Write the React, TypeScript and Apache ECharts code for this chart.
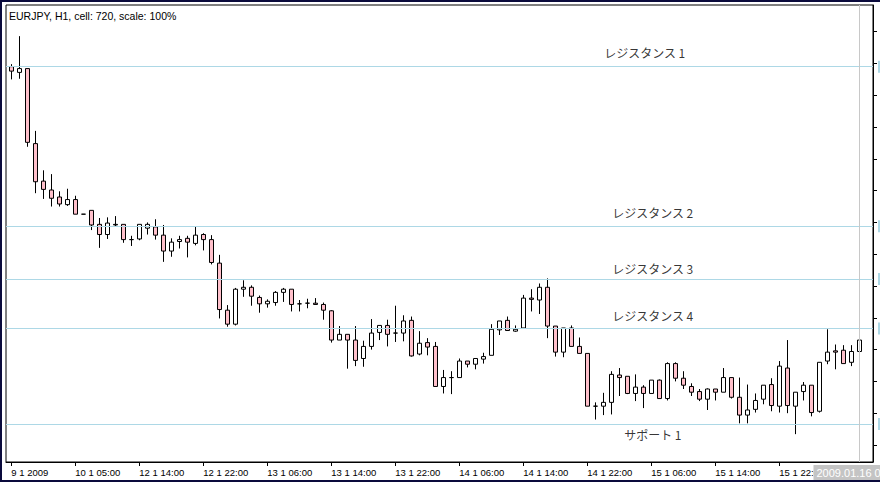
import React, { useEffect, useRef } from "react";
import * as echarts from "echarts";

// ---- data (EURJPY, H1) ----
const openPrices = [
  123.45, 123.36, 123.42, 122.24, 121.65, 121.51, 121.40, 121.28, 121.36, 121.13,
  121.19, 120.97, 120.81, 120.96, 120.97, 120.73, 120.74, 120.91, 120.93, 120.80,
  120.55, 120.70, 120.75, 120.67, 120.81, 120.73, 120.36, 119.62, 119.40, 119.95,
  119.98, 119.82, 119.72, 119.74, 119.90, 119.95, 119.72, 119.73, 119.73, 119.71,
  119.61, 119.15, 119.24, 119.15, 118.86, 119.05, 119.27, 119.38, 119.26, 119.26,
  119.46, 118.93, 119.11, 119.05, 118.42, 118.56, 118.56, 118.82, 118.77, 118.85,
  118.91, 119.31, 119.46, 119.29, 119.34, 119.81, 119.78, 119.98, 119.37, 118.96,
  119.34, 119.05, 118.94, 118.11, 118.11, 118.17, 118.60, 118.58, 118.31, 118.41,
  118.31, 118.52, 118.23, 118.78, 118.55, 118.42, 118.34, 118.22, 118.38, 118.33,
  118.56, 118.25, 117.97, 118.06, 118.22, 118.45, 118.11, 118.71, 118.11, 118.34,
  118.44, 118.03, 118.82, 118.98, 118.99, 118.80, 118.97,
];
const highPrices = [
  123.49, 123.93, 123.42, 122.44, 121.82, 121.76, 121.49, 121.53, 121.42, 121.13,
  121.19, 121.07, 121.08, 121.10, 120.97, 120.79, 120.97, 121.00, 121.05, 120.96,
  120.75, 120.79, 120.79, 120.93, 120.83, 120.80, 120.49, 119.70, 119.97, 120.09,
  120.01, 119.85, 119.79, 119.92, 119.97, 119.95, 119.78, 119.80, 119.81, 119.74,
  119.62, 119.37, 119.24, 119.37, 119.14, 119.48, 119.38, 119.47, 119.69, 119.54,
  119.52, 119.29, 119.18, 119.12, 118.68, 118.66, 118.86, 118.82, 118.86, 118.95,
  119.40, 119.45, 119.52, 119.38, 119.86, 119.95, 120.04, 120.12, 119.37, 119.34,
  119.38, 119.19, 118.94, 118.17, 118.32, 118.66, 118.71, 118.58, 118.61, 118.44,
  118.52, 118.53, 118.80, 118.80, 118.66, 118.47, 118.38, 118.39, 118.38, 118.71,
  118.56, 118.56, 118.45, 118.31, 118.44, 118.55, 118.82, 119.15, 118.33, 118.49,
  118.44, 118.80, 119.32, 119.08, 119.07, 119.07, 119.15,
];
const lowPrices = [
  123.25, 123.26, 122.19, 121.46, 121.37, 121.25, 121.25, 121.26, 121.13, 121.13,
  120.88, 120.60, 120.74, 120.94, 120.68, 120.63, 120.72, 120.81, 120.73, 120.38,
  120.46, 120.59, 120.45, 120.64, 120.56, 120.34, 119.49, 119.36, 119.38, 119.83,
  119.69, 119.58, 119.66, 119.69, 119.75, 119.60, 119.60, 119.65, 119.71, 119.47,
  119.11, 119.15, 118.70, 118.74, 118.73, 119.00, 119.15, 119.05, 119.12, 119.13,
  118.89, 118.91, 118.91, 118.42, 118.31, 118.30, 118.56, 118.72, 118.69, 118.78,
  118.91, 119.23, 119.30, 119.28, 119.34, 119.60, 119.56, 119.18, 118.89, 118.88,
  119.05, 118.94, 118.11, 117.90, 117.97, 117.98, 118.27, 118.30, 118.19, 118.08,
  118.31, 118.23, 118.20, 118.50, 118.38, 118.27, 118.19, 118.05, 118.20, 118.33,
  118.23, 117.84, 117.84, 118.01, 118.14, 118.03, 118.01, 118.00, 117.67, 118.20,
  117.95, 118.01, 118.77, 118.69, 118.78, 118.74, 118.97,
];
const closePrices = [
  123.38, 123.42, 122.26, 121.64, 121.52, 121.38, 121.29, 121.36, 121.13, 121.13,
  120.96, 120.81, 120.99, 120.97, 120.73, 120.73, 120.97, 120.97, 120.80, 120.55,
  120.69, 120.73, 120.69, 120.80, 120.73, 120.37, 119.63, 119.40, 119.95, 119.98,
  119.84, 119.72, 119.76, 119.90, 119.95, 119.71, 119.72, 119.73, 119.71, 119.62,
  119.15, 119.24, 119.15, 118.83, 119.05, 119.26, 119.38, 119.24, 119.26, 119.45,
  118.90, 119.10, 119.04, 118.42, 118.56, 118.56, 118.82, 118.77, 118.86, 118.89,
  119.32, 119.45, 119.30, 119.32, 119.81, 119.79, 119.98, 119.37, 118.96, 119.34,
  119.05, 118.94, 118.11, 118.11, 118.17, 118.61, 118.56, 118.31, 118.41, 118.31,
  118.52, 118.23, 118.78, 118.55, 118.44, 118.33, 118.22, 118.38, 118.33, 118.56,
  118.25, 117.97, 118.05, 118.20, 118.44, 118.12, 118.74, 118.12, 118.33, 118.44,
  118.01, 118.80, 118.96, 118.96, 118.78, 118.97, 119.15,
];

const xTickIndex = [0, 8, 16, 24, 32, 40, 48, 56, 64, 72, 80, 88, 96];
const xTickLabels = [
  "9 1 2009", "10 1 05:00", "12 1 14:00", "12 1 22:00", "13 1 06:00",
  "13 1 14:00", "13 1 22:00", "14 1 06:00", "14 1 14:00", "14 1 22:00",
  "15 1 06:00", "15 1 14:00", "15 1 22:00",
];
const yTickValues = [
  117.5, 118.0, 118.5, 119.0, 119.5, 120.0, 120.5,
  121.0, 121.5, 122.0, 122.5, 123.0, 123.5, 124.0,
];

const levelNames = ["レジスタンス 1", "レジスタンス 2", "レジスタンス 3", "レジスタンス 4", "サポート 1"];
const levelPrices = [123.45, 120.94, 120.11, 119.33, 117.83];
const levelLabelX = [74.1, 75.1, 75.1, 75.1, 76.6];
const levelLabelPrice = [123.68, 121.15, 120.28, 119.54, 117.66];

const currentIndex = 106;
const currentTimeLabel = "2009.01.16 08:00";
const chartTitle = "EURJPY, H1, cell: 720, scale: 100%";

const priceMin = 117.232;
const priceMax = 124.42;
const indexMin = -0.6625;
const indexMax = 107.7125;

export default function App() {
  const ref = useRef<HTMLDivElement>(null);

  useEffect(() => {
    if (!ref.current) return;
    const chart = echarts.init(ref.current, undefined, { renderer: "svg" });

    const candles = openPrices.map((o, i) => [i, o, closePrices[i], lowPrices[i], highPrices[i]]);
    const notes = levelNames.map((n, i) => ({ name: n, value: [levelLabelX[i], levelLabelPrice[i]] }));

    const hLines = levelPrices.map((p) => ({
      yAxis: p,
      lineStyle: { color: "#add8e6", width: 1, type: "solid" },
      label: {
        show: true,
        position: "end",
        distance: 5,
        formatter: " ",
        backgroundColor: "#add8e6",
        width: 30,
        height: 10,
        padding: [1, 3],
      },
    }));

    const option: any = {
      animation: false,
      backgroundColor: "transparent",
      title: {
        text: chartTitle,
        left: 9,
        top: 10,
        padding: 0,
        textStyle: {
          fontFamily: "Liberation Sans, Arial, sans-serif",
          fontSize: 10.5,
          fontWeight: "normal",
          color: "#000",
          lineHeight: 11,
        },
      },
      grid: {
        left: 6,
        top: 5,
        right: 7,
        bottom: 20,
        show: true,
        borderColor: "#000",
        borderWidth: 1,
        backgroundColor: "transparent",
      },
      xAxis: {
        type: "value",
        min: indexMin,
        max: indexMax,
        axisLine: { show: true, onZero: false, lineStyle: { color: "#000", width: 1 } },
        axisTick: {
          show: true,
          length: 4,
          customValues: xTickIndex,
          lineStyle: { color: "#000" },
        },
        axisLabel: {
          show: true,
          customValues: xTickIndex,
          formatter: (v: number) => {
            const k = xTickIndex.indexOf(Math.round(v));
            return k >= 0 ? xTickLabels[k] : "";
          },
          align: "left",
          margin: 5,
          fontSize: 9.5,
          fontFamily: "Liberation Sans, Arial, sans-serif",
          color: "#000",
        },
        splitLine: { show: false },
      },
      yAxis: {
        type: "value",
        position: "right",
        min: priceMin,
        max: priceMax,
        axisLine: { show: true, onZero: false, lineStyle: { color: "#000", width: 1 } },
        axisTick: {
          show: true,
          length: 4,
          customValues: yTickValues,
          lineStyle: { color: "#000" },
        },
        axisLabel: { show: false },
        splitLine: { show: false },
      },
      series: [
        {
          type: "scatter",
          name: "levels",
          z: 1,
          symbolSize: 0.1,
          itemStyle: { color: "transparent" },
          silent: true,
          data: notes,
          label: {
            show: true,
            position: "right",
            distance: 0,
            formatter: "{b}",
            verticalAlign: "middle",
            fontFamily: "Noto Sans CJK JP, sans-serif",
            fontSize: 12,
            color: "#000",
          },
          markLine: {
            silent: true,
            symbol: ["none", "none"],
            animation: false,
            data: [
              ...hLines,
              {
                xAxis: currentIndex,
                lineStyle: { color: "#c8c8c8", width: 1, type: "solid" },
                label: {
                  show: true,
                  position: "start",
                  distance: 3,
                  formatter: currentTimeLabel,
                  backgroundColor: "#c4c4c4",
                  color: "#ffffff",
                  fontSize: 11,
                  fontFamily: "Liberation Sans, Arial, sans-serif",
                  padding: [2, 3],
                },
              },
            ],
          },
        },
        {
          type: "candlestick",
          name: "EURJPY",
          z: 3,
          barWidth: 4,
          data: candles,
          itemStyle: {
            color: "#ffffff",
            color0: "#ffc0cb",
            borderColor: "#000000",
            borderColor0: "#000000",
            borderColorDoji: "#000000",
            borderWidth: 1,
          },
        },
      ],
    };

    chart.setOption(option);
    return () => chart.dispose();
  }, []);

  return (
    <div
      style={{
        position: "fixed",
        left: 0,
        top: 0,
        width: 880,
        height: 482,
        boxSizing: "border-box",
        borderTop: "2px solid #0a0a3c",
        borderLeft: "2px solid #0a0a3c",
        borderBottom: "2px solid #0a0a3c",
        background: "#ffffff",
      }}
    >
      <div
        ref={ref}
        style={{ position: "absolute", left: -2, top: -2, width: 880, height: 482 }}
      />
    </div>
  );
}
